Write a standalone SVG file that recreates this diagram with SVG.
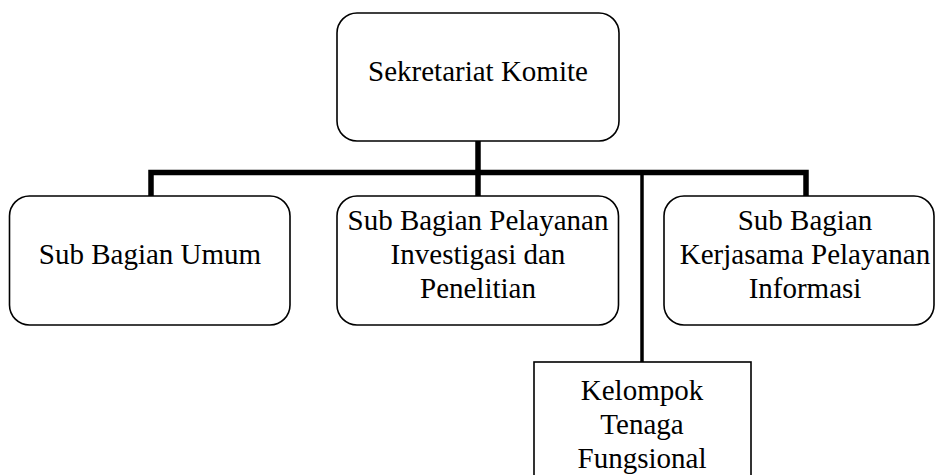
<svg xmlns="http://www.w3.org/2000/svg" width="935" height="475" viewBox="0 0 935 475">
<style>
.box{fill:#fff;stroke:#000;stroke-width:1.6}
.t{font-family:"Liberation Serif","Times New Roman",serif;font-size:29px;fill:#000;text-anchor:middle}
.thick{stroke:#000;stroke-width:5.5;fill:none}
.thin{stroke:#000;stroke-width:3.5;fill:none}
</style>
<rect width="935" height="475" fill="#fff"/>
<g id="connectors">
<line class="thick" x1="478" y1="141" x2="478" y2="175"/>
<polyline class="thick" points="151,196 151,172.5 806,172.5 806,196"/>
<line class="thick" x1="478" y1="172" x2="478" y2="196"/>
<line class="thin" x1="642" y1="172" x2="642" y2="362"/>
</g>
<g id="sekretariat">
<rect class="box" x="337" y="13" width="282" height="128" rx="20"/>
<text class="t" x="478" y="81">Sekretariat Komite</text>
</g>
<g id="umum">
<rect class="box" x="9.5" y="196" width="280.5" height="129" rx="20"/>
<text class="t" x="150" y="264">Sub Bagian Umum</text>
</g>
<g id="investigasi">
<rect class="box" x="337" y="196" width="281.5" height="129" rx="20"/>
<text class="t" x="478" y="230">Sub Bagian Pelayanan</text>
<text class="t" x="478" y="264">Investigasi dan</text>
<text class="t" x="478" y="298">Penelitian</text>
</g>
<g id="kerjasama">
<rect class="box" x="664" y="196" width="270" height="129" rx="20"/>
<text class="t" x="805" y="230">Sub Bagian</text>
<text class="t" x="805" y="264">Kerjasama Pelayanan</text>
<text class="t" x="805" y="298">Informasi</text>
</g>
<g id="kelompok">
<rect class="box" x="534" y="362" width="217" height="120"/>
<text class="t" x="642" y="400">Kelompok</text>
<text class="t" x="642" y="434">Tenaga</text>
<text class="t" x="642" y="468">Fungsional</text>
</g>
</svg>
